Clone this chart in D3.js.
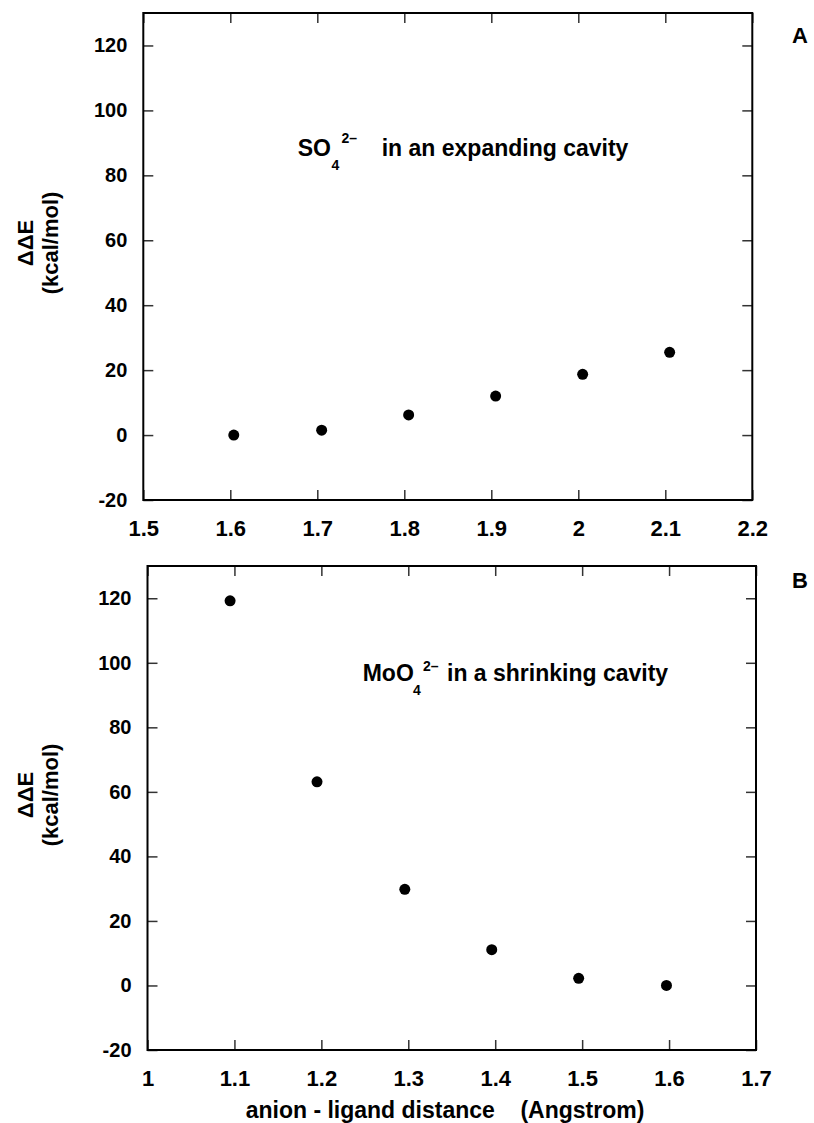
<!DOCTYPE html>
<html>
<head>
<meta charset="utf-8">
<script src="https://cdn.jsdelivr.net/npm/d3@7"></script>
<style>
  body { margin: 0; background: #fff; }
  svg text { font-family: "Liberation Sans", Arial, sans-serif; font-weight: bold; fill: #000; }
  .tick line { stroke: #333; stroke-width: 1.5; }
</style>
</head>
<body>
<svg id="viz" width="814" height="1123"></svg>
<script>
"use strict";
// panel A: SO4 2- in an expanding cavity
const distA = [1.604, 1.705, 1.805, 1.905, 2.005, 2.105];
const energyA = [0, 1.5, 6.2, 12, 18.7, 25.5];
const xTicksA = [1.5, 1.6, 1.7, 1.8, 1.9, 2.0, 2.1, 2.2];

// panel B: MoO4 2- in a shrinking cavity
const distB = [1.095, 1.195, 1.296, 1.396, 1.496, 1.597];
const energyB = [119.2, 63.1, 29.8, 11.1, 2.2, 0];
const xTicksB = [1.0, 1.1, 1.2, 1.3, 1.4, 1.5, 1.6, 1.7];

const yTicks = [-20, 0, 20, 40, 60, 80, 100, 120];
const yDomain = [-20, 130];

let svg = d3.select("#viz");
// plain hyphen for negatives, "2" rather than "2.0"
let fmt = (d) => String(+d.toFixed(1));

function drawPanel(cfg) {
    let xScale = d3.scaleLinear()
        .domain([cfg.xTicks[0], cfg.xTicks[cfg.xTicks.length - 1]])
        .range([cfg.left, cfg.right]);
    let yScale = d3.scaleLinear()
        .domain(yDomain)
        .range([cfg.bottom, cfg.top]);

    let g = svg.append("g");

    // bottom axis with labels, ticks pointing inward
    let xb = g.append("g")
        .attr("transform", `translate(0, ${cfg.bottom})`)
        .call(d3.axisBottom(xScale).tickValues(cfg.xTicks).tickFormat(fmt)
            .tickSizeInner(-10).tickSizeOuter(0).tickPadding(20));
    xb.selectAll("text").style("font-size", "22px");
    // top axis, ticks only
    g.append("g")
        .attr("transform", `translate(0, ${cfg.top})`)
        .call(d3.axisTop(xScale).tickValues(cfg.xTicks).tickFormat("")
            .tickSizeInner(-10).tickSizeOuter(0));
    // left axis
    let yl = g.append("g")
        .attr("transform", `translate(${cfg.left}, 0)`)
        .call(d3.axisLeft(yScale).tickValues(yTicks).tickFormat(fmt)
            .tickSizeInner(-10).tickSizeOuter(0).tickPadding(16));
    yl.selectAll("text").style("font-size", "20px");
    // right axis, ticks only
    g.append("g")
        .attr("transform", `translate(${cfg.right}, 0)`)
        .call(d3.axisRight(yScale).tickValues(yTicks).tickFormat("")
            .tickSizeInner(-10).tickSizeOuter(0));
    g.selectAll(".domain").remove();

    g.append("rect")
        .attr("x", cfg.left)
        .attr("y", cfg.top)
        .attr("width", cfg.right - cfg.left)
        .attr("height", cfg.bottom - cfg.top)
        .attr("fill", "none")
        .attr("stroke", "#000")
        .attr("stroke-width", 2);

    g.selectAll(".pt")
        .data(cfg.x)
        .enter().append("circle")
        .attr("class", "pt")
        .attr("cx", (d) => xScale(d))
        .attr("cy", (d, i) => yScale(cfg.y[i]))
        .attr("r", 5.5)
        .attr("fill", "#000");

    // y axis title
    let yc = cfg.yLabelCenter;
    g.append("text")
        .attr("transform", `translate(33, ${yc}) rotate(-90)`)
        .attr("text-anchor", "middle")
        .style("font-size", "22px")
        .text("\u0394\u0394E");
    g.append("text")
        .attr("transform", `translate(58, ${yc}) rotate(-90)`)
        .attr("text-anchor", "middle")
        .style("font-size", "22px")
        .text("(kcal/mol)");

    // panel letter
    g.append("text")
        .attr("x", 800)
        .attr("y", cfg.letterY)
        .attr("text-anchor", "middle")
        .style("font-size", "22px")
        .text(cfg.letter);

    // annotation with sub/superscript
    let a = cfg.note;
    g.append("text").attr("x", a.x).attr("y", a.y).style("font-size", "23px").text(a.ion);
    g.append("text").attr("x", a.subX).attr("y", a.y + 14).style("font-size", "14px").text("4");
    g.append("text").attr("x", a.supX).attr("y", a.y - a.supUp).style("font-size", "14px").text("2\u2013");
    g.append("text").attr("x", a.restX).attr("y", a.y).style("font-size", "23px").text(a.rest);

    return g;
}

drawPanel({
    x: distA, y: energyA, xTicks: xTicksA,
    left: 143.3, right: 752.3, top: 13, bottom: 500,
    yLabelCenter: 243, letter: "A", letterY: 43,
    note: { x: 297.7, y: 156, ion: "SO", subX: 331.5, supX: 341.5, supUp: 13,
            restX: 381.7, rest: "in an expanding cavity" }
});

drawPanel({
    x: distB, y: energyB, xTicks: xTicksB,
    left: 147.5, right: 756, top: 566, bottom: 1050,
    yLabelCenter: 795, letter: "B", letterY: 588,
    note: { x: 362.7, y: 681, ion: "MoO", subX: 413, supX: 423, supUp: 10,
            restX: 447, rest: "in a shrinking cavity" }
});

svg.append("text")
    .attr("x", 445)
    .attr("y", 1118)
    .attr("text-anchor", "middle")
    .style("font-size", "23px")
    .style("white-space", "pre")
    .text("anion - ligand distance    (Angstrom)");
</script>
</body>
</html>
